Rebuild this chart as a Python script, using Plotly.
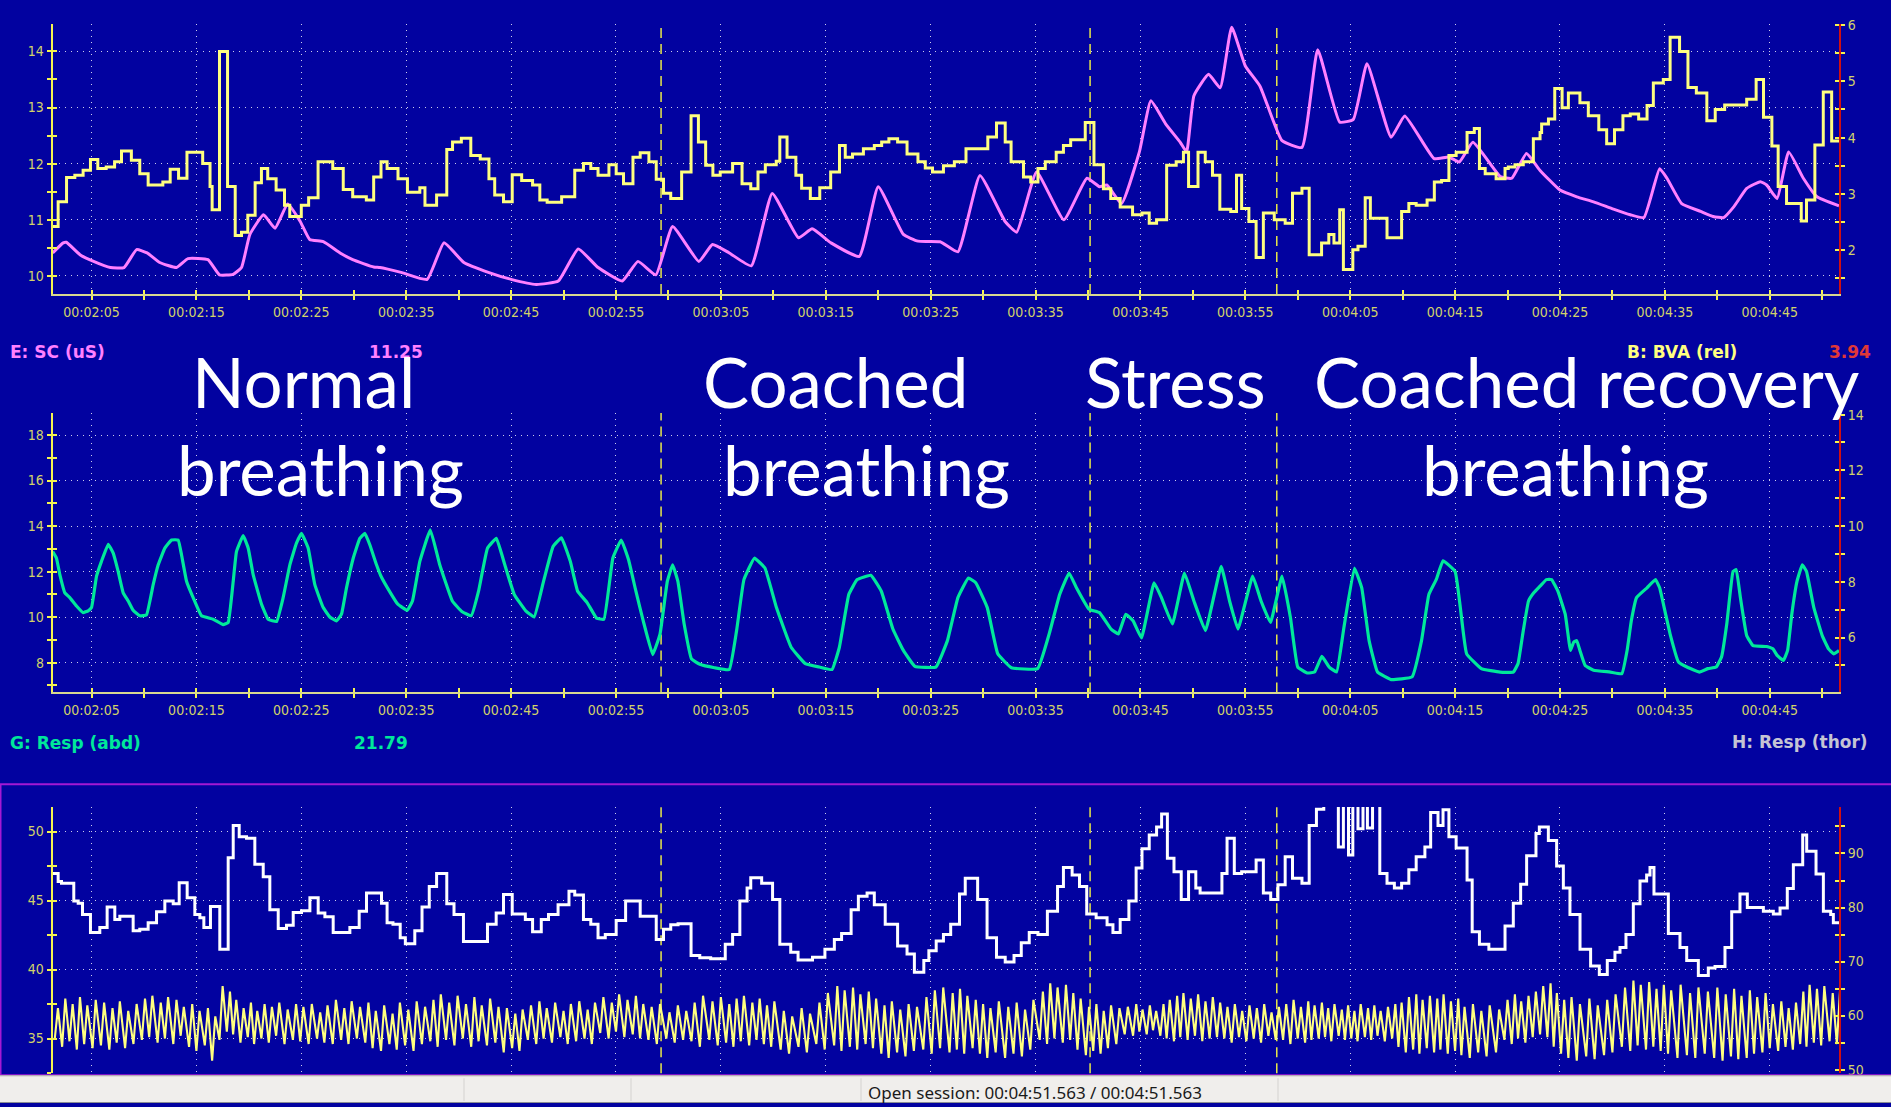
import plotly.graph_objects as go

# ---------------------------------------------------------------- data ----
# session time window shown, seconds
T0, T1 = 121.3, 291.6
tick_secs = list(range(125, 291, 10))
tick_text = [f"00:{s // 60:02d}:{s % 60:02d}" for s in tick_secs]
minor_secs = list(range(130, 291, 10))
phase_times = [179.3, 220.2, 238.0]
phase_names = [("Normal", "breathing"), ("Coached", "breathing"),
               ("Stress", ""), ("Coached recovery", "breathing")]

# E: SC (uS) - skin conductance
sc_t = [121.3, 122.3, 122.6, 123.9, 125.2, 126.8, 128.1, 129.3, 130.3, 131.5, 133.1, 134.2,
        136.1, 137.2, 138.5, 139.3, 140.1, 141.4, 142.5, 143.7, 144.9, 145.8, 147.1, 148.7,
        149.9, 151.9, 152.5, 154.6, 157.0, 158.6, 160.5, 162.9, 165.0, 167.4, 169.5, 171.4,
        173.3, 175.6, 177.1, 178.8, 180.4, 182.9, 184.2, 185.8, 187.9, 189.9, 192.4, 193.7,
        195.5, 198.2, 200.0, 202.4, 203.8, 205.9, 207.6, 209.7, 212.1, 213.2, 215.1, 217.7,
        219.9, 221.1, 221.8, 223.2, 224.9, 226.0, 227.4, 228.8, 229.4, 230.1, 231.5, 232.6,
        233.7, 235.0, 236.4, 238.5, 240.4, 241.9, 244.0, 245.3, 246.6, 248.9, 250.2, 253.0,
        254.4, 255.4, 256.7, 259.3, 260.4, 261.8, 263.1, 265.0, 266.6, 268.2, 270.1, 271.7,
        273.0, 274.5, 275.2, 276.6, 278.4, 279.6, 280.6, 281.6, 282.8, 284.1, 284.7, 285.7,
        286.8, 288.2, 289.5, 291.6]
sc_v = [10.41, 10.59, 10.60, 10.38, 10.26, 10.15, 10.15, 10.47, 10.41, 10.24, 10.15, 10.31,
        10.29, 10.02, 10.03, 10.15, 10.74, 11.09, 10.85, 11.28, 10.97, 10.65, 10.61, 10.41,
        10.29, 10.16, 10.15, 10.06, 9.94, 10.59, 10.24, 10.06, 9.94, 9.85, 9.91, 10.48,
        10.15, 9.91, 10.26, 10.02, 10.88, 10.26, 10.56, 10.41, 10.18, 11.47, 10.68, 10.84,
        10.59, 10.35, 11.59, 10.74, 10.62, 10.61, 10.43, 11.79, 10.97, 10.78, 11.85, 11.00,
        11.74, 11.59, 11.62, 11.29, 12.21, 13.12, 12.71, 12.38, 12.21, 13.21, 13.59, 13.35,
        14.43, 13.74, 13.38, 12.41, 12.29, 14.03, 12.74, 12.79, 13.78, 12.47, 12.85, 12.09,
        12.12, 12.03, 12.38, 11.77, 11.74, 12.18, 11.88, 11.53, 11.41, 11.32, 11.19, 11.09,
        11.04, 11.91, 11.74, 11.29, 11.15, 11.06, 11.04, 11.24, 11.56, 11.68, 11.62, 11.38,
        12.21, 11.74, 11.41, 11.25]

# B: BVA (rel) - blood volume amplitude, step values (start time, value)
bva_t = [121.3, 121.82, 122.62, 123.41, 124.2, 124.9, 125.6, 126.4, 127.2, 127.86, 128.8,
         129.6, 130.4, 131.8, 132.5, 133.3, 134.1, 135.6, 136.3, 136.5, 137.2, 137.97, 138.7,
         139.3, 139.9, 140.6, 141.2, 141.8, 142.6, 143.4, 143.9, 145.0, 145.7, 146.6, 148.0,
         149.0, 149.9, 151.2, 151.9, 152.6, 153.18, 154.22, 155.12, 156.3, 156.79, 157.9,
         158.87, 159.42, 160.26, 161.16, 162.06, 162.89, 163.44, 164.28, 165.11, 166.01,
         167.05, 167.74, 168.44, 169.82, 171.07, 171.9, 172.6, 173.29, 174.33, 175.02, 175.72,
         176.62, 177.31, 178.14, 178.84, 179.53, 180.22, 181.26, 182.16, 182.86, 183.55,
         184.24, 184.94, 186.12, 187.02, 187.85, 188.54, 189.24, 190.28, 190.62, 191.31,
         192.15, 192.7, 193.53, 194.43, 195.47, 196.31, 196.86, 197.55, 198.59, 199.63,
         200.33, 201.02, 201.85, 202.75, 203.79, 204.49, 205.18, 206.22, 207.26, 208.37,
         210.45, 211.28, 212.11, 212.67, 213.85, 214.54, 215.23, 215.93, 216.97, 217.66,
         218.35, 219.74, 220.57, 221.47, 222.17, 223.07, 224.25, 225.15, 225.84, 226.54,
         227.5, 228.41, 229.1, 229.59, 230.49, 231.18, 231.87, 232.57, 233.61, 234.16, 234.65,
         235.34, 236.03, 236.72, 237.76, 238.8, 239.5, 240.4, 241.09, 242.27, 242.96, 243.45,
         244.0, 244.35, 245.25, 245.74, 246.43, 246.92, 248.51, 249.9, 250.59, 251.29, 252.33,
         253.02, 253.71, 254.41, 255.1, 256.14, 256.83, 257.32, 257.87, 258.91, 259.76,
         260.07, 260.71, 261.5, 262.46, 263.1, 263.25, 263.9, 264.5, 265.2, 265.8, 266.9,
         267.7, 268.7, 269.45, 270.2, 271.0, 271.7, 272.5, 273.3, 273.9, 274.85, 275.5, 276.4,
         277.2, 278.0, 279.0, 279.8, 280.7, 282.8, 283.7, 284.4, 285.2, 285.8, 286.6, 288.0,
         288.5, 289.3, 290.1, 290.9]
bva_v = [2.42, 2.86, 3.29, 3.33, 3.42, 3.61, 3.45, 3.48, 3.57, 3.76, 3.60,
         3.36, 3.16, 3.21, 3.44, 3.28, 3.74, 3.54, 3.13, 2.72, 5.53, 3.13, 2.26,
         2.32, 2.62, 3.20, 3.45, 3.27, 3.07, 2.80, 2.60, 2.80, 2.93, 3.57, 3.45,
         3.08, 2.95, 2.89, 3.30, 3.57, 3.45, 3.27, 3.03, 3.11, 2.80, 2.98,
         3.79, 3.92, 3.99, 3.68, 3.62, 3.27, 2.98, 2.86, 3.34, 3.24,
         3.16, 2.89, 2.85, 2.95, 3.42, 3.54, 3.45, 3.33, 3.52, 3.36, 3.18,
         3.65, 3.73, 3.57, 3.26, 3.01, 2.92, 3.39, 4.39, 3.92, 3.51,
         3.33, 3.39, 3.54, 3.18, 3.09, 3.39, 3.52, 3.58, 4.01, 3.65,
         3.33, 3.10, 2.92, 3.11, 3.39, 3.86, 3.65, 3.71, 3.80, 3.86,
         3.92, 3.98, 3.92, 3.71, 3.57, 3.46, 3.39, 3.50, 3.57, 3.80,
         4.01, 4.26, 3.92, 3.57, 3.30, 3.21, 3.45, 3.57, 3.74, 3.86,
         3.96, 4.27, 3.52, 3.09, 2.92, 2.77, 2.63, 2.66, 2.48, 2.54,
         3.51, 3.57, 3.74, 3.13, 3.74, 3.57, 3.33, 2.73, 2.69, 3.33, 2.74,
         2.51, 1.87, 2.66, 2.54, 2.48, 3.01, 3.10, 1.92, 2.13, 2.28, 2.13,
         2.72, 1.66, 2.01, 2.07, 2.93, 2.57, 2.22, 2.69, 2.83, 2.80, 2.89,
         3.21, 3.24, 3.68, 3.74, 4.09, 4.16, 3.45, 3.36, 3.27, 3.45,
         3.48, 3.52, 3.57, 3.98, 4.09, 4.24, 4.33, 4.87, 4.53, 4.79, 4.62,
         4.39, 4.14, 3.89, 4.14, 4.39, 4.42, 4.33, 4.57, 4.97, 5.03, 5.78, 5.53,
         4.89, 4.79, 4.30, 4.50, 4.58, 4.68, 5.03, 4.36, 3.85, 3.13, 2.83, 2.52,
         2.89, 3.87, 4.81, 3.94]

# G: Resp (abd) - abdominal respiration
resp_t = [121.3, 121.66, 121.98, 122.46, 122.93, 123.57, 124.2, 124.68, 125.0, 125.48, 125.95,
          126.59, 127.07, 127.54, 128.02, 128.5, 128.97, 129.61, 130.24, 130.88, 131.36,
          131.99, 132.63, 133.26, 133.58, 134.06, 134.69, 135.49, 136.6, 137.55, 138.03,
          138.51, 138.82, 139.46, 139.94, 140.41, 141.21, 141.84, 142.64, 143.27, 143.91,
          144.54, 145.02, 145.66, 146.29, 147.09, 147.72, 148.36, 148.83, 149.31, 149.95,
          150.58, 151.06, 151.54, 152.17, 152.6, 153.5, 154.2, 155.1, 155.6, 156.3, 157.3,
          158.2, 159.4, 160.3, 161.2, 161.9, 162.75, 163.6, 164.4, 165.3, 166.4, 167.2, 168.1,
          169.0, 169.8, 170.65, 171.35, 172.25, 173.15, 173.85, 174.7, 175.5, 176.2, 176.9,
          177.6, 178.5, 179.2, 179.9, 180.4, 180.9, 181.5, 182.2, 183.0, 184.4, 185.8, 186.5,
          187.2, 188.2, 189.2, 190.3, 191.7, 193.05, 194.4, 195.6, 196.3, 197.2, 198.0, 199.3,
          200.3, 201.4, 202.4, 203.5, 205.5, 206.6, 207.6, 208.6, 209.3, 210.4, 211.4, 212.7,
          215.2, 216.3, 217.3, 218.2, 218.9, 220.1, 221.1, 222.2, 222.9, 223.6, 224.3, 225.1,
          226.3, 227.0, 228.05, 229.2, 230.1, 231.2, 232.7, 233.5, 234.3, 235.7, 236.5, 237.4,
          238.5, 239.3, 240.0, 240.9, 241.6, 242.3, 243.0, 243.7, 244.4, 245.4, 246.1, 246.8,
          247.6, 248.9, 250.9, 251.8, 252.5, 253.2, 253.85, 255.0, 255.5, 256.1, 257.5, 259.3,
          260.55, 261.0, 261.5, 262.0, 262.5, 263.1, 263.7, 264.2, 264.8, 265.5, 266.0, 266.3,
          266.6, 266.9, 267.4, 268.2, 269.8, 270.9, 271.4, 271.8, 272.3, 273.3, 274.1, 274.5,
          275.0, 275.5, 276.3, 277.1, 278.3, 279.1, 279.9, 280.4, 280.9, 281.5, 281.8, 282.2,
          282.8, 283.4, 284.7, 285.3, 285.7, 286.3, 286.7, 287.1, 287.6, 288.1, 288.5, 289.2,
          290.0, 290.6, 291.1, 291.6]
resp_v = [12.88, 12.59, 11.87, 11.07, 10.86, 10.49, 10.20, 10.28, 10.42, 11.80, 12.45,
          13.20, 12.81, 12.01, 11.07, 10.71, 10.30, 10.06, 10.10, 11.43, 12.30,
          13.03, 13.39, 13.39, 12.74, 11.58, 10.86, 10.06, 9.91, 9.67, 9.77,
          11.58, 12.88, 13.58, 13.03, 11.87, 10.57, 9.91, 9.81, 10.86, 12.30,
          13.25, 13.68, 13.03, 11.43, 10.42, 10.01, 9.84, 10.13, 11.29, 12.59,
          13.46, 13.68, 13.17, 12.30, 11.80, 11.07, 10.57, 10.30, 10.71, 12.45, 13.83,
          12.30, 10.71, 10.25, 10.06, 11.14, 13.03, 13.46, 12.30, 11.00, 10.28, 10.01, 11.58,
          13.10, 13.49, 12.45, 11.14, 10.64, 9.96, 9.91, 12.59, 13.39, 12.52, 11.14,
          9.84, 8.36, 9.26, 11.58, 12.30, 11.58, 9.70, 8.17, 7.93, 7.78, 7.70, 9.41,
          11.65, 12.59, 12.16, 10.42, 8.68, 7.96, 7.81, 7.70, 8.68, 11.00, 11.65, 11.84,
          11.14, 9.48, 8.54, 7.84, 7.81, 8.97, 10.86, 11.72, 11.51, 10.42, 8.39, 7.78,
          7.74, 9.26, 11.00, 11.94, 11.29, 10.35, 10.20, 9.48, 9.26, 10.13, 9.84, 9.09,
          11.51, 10.86, 9.70, 11.94, 10.71, 9.41, 12.23, 10.71, 9.48, 11.80, 10.71, 9.77,
          11.80, 9.99, 7.81, 7.55, 7.59, 8.28, 7.81, 7.59, 9.55, 12.16, 11.29, 8.97,
          7.59, 7.26, 7.38, 8.97, 11.00, 11.65, 12.48, 12.01, 10.42, 8.39, 7.74, 7.59,
          7.59, 7.96, 9.41, 10.71, 11.07, 11.36, 11.65, 11.65, 11.14, 10.13, 8.54, 8.90,
          8.97, 8.54, 7.88, 7.67, 7.59, 7.52, 8.54, 9.84, 10.86, 11.29, 11.65, 11.29,
          10.28, 9.26, 8.03, 7.81, 7.59, 7.74, 7.81, 8.25, 9.70, 12.01, 12.09, 10.86,
          9.19, 8.75, 8.71, 8.61, 8.32, 8.10, 8.54, 10.13, 11.58, 12.30, 12.01, 10.42,
          9.19, 8.61, 8.39, 8.54]

# heart rate (bpm), step values (start time, value)
hr_t = [121.3, 121.82, 122.14, 123.31, 123.73, 124.14, 124.9, 125.79, 126.49, 127.22, 127.7,
        128.97, 129.6, 130.4, 131.2, 131.99, 132.79, 133.36, 134.12, 134.85, 135.33, 135.71,
        136.34, 137.23, 138.03, 138.51, 139.08, 139.78, 140.57, 141.37, 142.0, 142.8, 143.59,
        144.23, 145.02, 145.82, 146.61, 147.25, 148.04, 149.63, 150.52, 151.22, 152.65,
        153.18, 153.74, 154.43, 154.92, 155.82, 156.51, 157.2, 157.9, 158.87, 159.56, 160.46,
        162.75, 163.58, 164.28, 165.11, 166.36, 167.05, 167.88, 168.57, 169.48, 170.52,
        171.07, 171.9, 172.6, 173.29, 173.98, 175.02, 175.92, 177.31, 178.84, 179.53, 180.22,
        180.92, 182.16, 182.99, 184.03, 185.42, 186.12, 186.81, 187.5, 187.85, 188.89,
        189.93, 190.62, 191.66, 192.36, 193.74, 194.92, 195.82, 196.51, 197.42, 198.11,
        198.94, 199.63, 200.67, 201.85, 202.75, 203.45, 204.35, 204.83, 205.53, 206.22,
        206.91, 207.75, 208.3, 209.48, 210.38, 211.28, 212.11, 212.95, 213.64, 214.4, 215.23,
        216.13, 217.1, 217.66, 218.49, 219.19, 219.88, 220.78, 221.82, 222.38, 223.07, 223.9,
        224.59, 225.15, 225.84, 226.54, 227.02, 227.57, 228.2, 228.89, 229.59, 230.28,
        230.69, 232.77, 233.26, 233.95, 234.65, 236.03, 236.72, 237.42, 238.11, 238.8, 239.5,
        240.4, 241.09, 241.78, 242.48, 243.87, 244.35, 244.84, 245.25, 245.74, 246.22,
        246.64, 247.13, 247.82, 248.51, 249.21, 249.9, 250.59, 251.29, 252.12, 252.67,
        253.37, 253.85, 254.41, 255.1, 256.14, 256.63, 257.32, 258.22, 259.76, 260.55,
        261.25, 261.82, 262.71, 263.03, 263.89, 264.68, 265.32, 265.95, 266.91, 267.92,
        268.75, 269.51, 270.24, 270.72, 271.29, 271.99, 272.63, 273.26, 273.58, 273.96,
        275.33, 276.44, 277.08, 278.19, 279.14, 279.78, 280.73, 281.37, 282.16, 282.86,
        284.39, 285.34, 285.98, 286.67, 287.25, 288.14, 288.52, 289.41, 290.11, 290.81,
        291.06]
hr_v = [86.3, 84.8, 84.5, 81.2, 80.8, 78.7, 75.4, 76.3, 80.1, 77.8, 78.4,
        75.7, 76.0, 77.2, 79.2, 81.2, 80.7, 84.6, 81.8, 78.7, 78.1, 76.3,
        80.2, 72.3, 89.2, 95.2, 93.1, 92.8, 88.0, 85.7, 79.6, 76.1, 76.7,
        79.1, 79.4, 81.8, 79.0, 78.3, 75.4, 76.3, 79.3, 82.7, 80.8,
        77.2, 76.9, 74.4, 73.3, 75.7, 80.1, 83.9, 86.3, 80.7, 78.7, 73.7,
        76.9, 79.0, 82.4, 78.8, 77.8, 75.5, 77.8, 78.7, 80.5, 83.0,
        82.3, 77.8, 76.9, 74.4, 75.0, 77.6, 81.2, 78.4, 74.1, 76.0, 76.8,
        77.0, 71.1, 70.7, 70.5, 73.2, 75.0, 81.2, 83.6, 85.5, 84.5,
        81.5, 73.2, 71.7, 70.3, 70.8, 72.3, 74.1, 75.2, 79.6, 82.1,
        82.7, 80.5, 76.9, 72.9, 71.4, 68.0, 70.2, 72.0, 73.8, 75.0,
        76.9, 82.5, 85.4, 81.5, 74.4, 70.8, 69.9, 71.1, 73.5, 75.4, 75.0,
        79.3, 83.9, 87.4, 86.0, 83.9, 78.8, 78.1, 76.8, 75.4, 77.8, 81.2,
        87.3, 90.9, 93.4, 94.9, 97.3, 89.1, 86.6, 81.5, 86.6, 83.6,
        82.7, 86.3, 92.8, 86.3, 86.6, 88.8, 82.7, 81.5, 84.2, 89.4, 85.4,
        84.5, 95.2, 98.2, 100.5, 91.2, 100.5, 89.7, 100.5, 94.6, 100.5,
        94.7, 99.5, 86.3, 84.5, 83.6, 84.5, 87.0, 89.4, 91.2, 97.6,
        95.2, 98.1, 93.1, 91.0, 85.1, 75.5, 73.2, 72.3, 76.6, 80.8,
        84.3, 89.6, 93.7, 94.9, 92.4, 87.7, 83.6, 78.7, 72.3, 69.2,
        67.6, 70.2, 71.7, 72.6, 75.0, 80.7, 84.9, 86.0, 87.4, 82.5,
        75.2, 72.6, 70.2, 67.4, 68.8, 69.1, 72.6, 79.2, 82.5, 80.0,
        79.3, 78.8, 79.9, 83.5, 87.9, 93.4, 90.4, 86.2, 79.3, 78.7,
        77.2]

# blood volume pulse: one entry per beat (onset time, peak, trough)
bvp_beat_t = [121.5, 122.2, 122.9, 123.6, 124.3, 125.1,
              125.9, 126.7, 127.4, 128.2, 129.0, 129.8,
              130.5, 131.3, 132.0, 132.8, 133.5,
              134.3, 135.0, 135.8, 136.5,
              137.2, 137.9,
              138.5, 139.2, 139.9, 140.5, 141.2, 141.9, 142.6, 143.4, 144.2,
              144.9, 145.7, 146.5, 147.2, 148.0, 148.8, 149.5, 150.3, 151.1,
              151.8, 152.6, 153.4, 154.1, 154.9, 155.7, 156.5,
              157.3, 158.0, 158.8, 159.6, 160.4, 161.2, 161.9, 162.7, 163.5,
              164.3, 165.1, 165.8,
              166.6, 167.4, 168.1, 168.9, 169.7, 170.4, 171.2, 172.0, 172.7,
              173.5, 174.3, 175.0, 175.8, 176.6, 177.3,
              178.1, 178.9, 179.8, 180.6, 181.4,
              182.2, 183.0, 183.9, 184.7, 185.5, 186.2, 186.9, 187.7, 188.4, 189.1, 189.8,
              190.7, 191.5, 192.4, 193.2,
              194.1, 194.9, 195.8, 196.5, 197.3, 198.0, 198.8, 199.5,
              200.3, 201.0, 201.8, 202.6, 203.4,
              204.3, 205.1, 205.9, 206.8, 207.5, 208.2, 209.0,
              209.7, 210.4, 211.2, 212.1, 212.9, 213.7, 214.5,
              215.4, 216.1, 216.8, 217.6, 218.3,
              219.0, 219.8, 220.5, 221.2, 221.9, 222.7,
              223.5, 224.3, 224.9, 225.6, 226.2, 226.9,
              227.5, 228.2, 228.8, 229.5, 230.2, 230.9, 231.6, 232.3,
              233.0, 233.7, 234.4, 235.1, 235.8, 236.5, 237.2, 237.9,
              238.6, 239.3, 240.0, 240.7, 241.3, 242.0,
              242.6, 243.2, 243.9, 244.5, 245.1, 245.7, 246.4, 247.0, 247.6, 248.3, 249.0,
              249.6, 250.3, 251.0, 251.6, 252.3, 253.0, 253.6, 254.3, 255.0,
              255.6, 256.4, 257.2, 258.0, 258.9,
              259.7, 260.4, 261.0, 261.7, 262.4,
              263.1, 263.8,
              264.4, 265.1, 265.8, 266.6, 267.5, 268.3, 269.2, 270.0,
              270.9, 271.7, 272.4, 273.2, 273.9, 274.6,
              275.3, 276.2, 277.1, 277.9, 278.8,
              279.7, 280.5, 281.3, 282.0, 282.8, 283.5, 284.3,
              285.0, 285.8, 286.5, 287.2,
              287.9, 288.5, 289.2, 289.9, 290.7, 291.4]
bvp_peak = [37.2, 37.9, 37.5, 38.0, 37.4, 37.8,
            37.6, 37.2, 37.7, 37.0, 37.5, 37.9,
            38.1, 37.6, 38.0, 37.8, 37.3,
            37.5, 37.0, 37.2, 36.6,
            38.8, 38.4,
            37.8, 37.2, 37.6, 37.0, 37.5, 37.3, 37.6, 37.1, 37.5,
            37.3, 37.5, 36.9, 37.4, 37.8, 37.2, 37.7, 37.3, 37.6,
            37.0, 37.4, 36.8, 37.6, 37.1, 37.7, 37.3,
            37.8, 38.2, 37.6, 38.1, 37.5, 38.0, 37.4, 37.9, 37.3,
            37.2, 36.8, 37.1,
            37.4, 37.7, 37.2, 37.6, 37.0, 37.5, 37.7, 37.1, 37.6,
            38.0, 37.6, 38.2, 37.8, 38.1, 37.5,
            37.3, 37.5, 36.9, 37.4, 37.0,
            37.6, 38.1, 37.7, 38.0, 37.5, 37.9, 38.1, 37.6, 37.9, 37.4, 37.7,
            37.0, 36.6, 37.2, 36.8,
            37.6, 38.3, 38.8, 38.5, 38.7, 38.2, 38.4, 37.9,
            37.4, 37.7, 37.1, 37.5, 37.3,
            38.0, 38.5, 38.7, 38.3, 38.6, 38.1, 37.8,
            37.5, 37.2, 37.7, 37.3, 37.6, 37.1, 37.8,
            38.4, 39.0, 38.7, 38.9, 38.3,
            37.9, 37.3, 37.5, 37.0, 37.4, 37.2,
            37.3, 37.5, 37.1, 37.4, 37.0, 37.5,
            37.8, 38.1, 38.3, 37.9, 38.2, 37.7, 38.0, 37.6,
            37.3, 37.5, 37.0, 37.4, 37.2, 37.5, 36.9, 37.3,
            37.5, 37.8, 37.3, 37.7, 37.4, 37.6,
            37.2, 37.5, 37.1, 37.4, 37.0, 37.5, 37.2, 37.4, 37.0, 37.3, 37.5,
            37.6, 38.0, 38.2, 37.8, 38.1, 37.9, 38.2, 37.7, 37.9,
            37.3, 37.5, 37.0, 37.4, 37.1,
            37.8, 38.2, 37.7, 38.1, 38.4,
            38.8, 39.0,
            38.3, 37.8, 38.0, 37.5, 37.9, 37.4, 37.8, 38.2,
            38.7, 39.2, 38.9, 39.1, 38.6, 38.9,
            38.5, 38.9, 38.3, 38.7, 38.4,
            38.7, 38.2, 38.6, 38.1, 38.5, 38.0, 38.3,
            37.5, 37.7, 37.2, 37.6,
            38.4, 38.9, 38.6, 38.8, 38.3, 38.5]
bvp_trough = [35.0, 34.4, 34.8, 34.2, 34.6, 34.3,
              34.5, 34.2, 34.7, 34.3, 34.6, 34.9,
              35.1, 34.7, 35.0, 34.6, 35.2,
              34.4, 34.1, 34.5, 33.4,
              34.9, 35.5,
              35.3, 34.7, 35.1, 34.6, 35.0, 34.7, 35.2, 34.6, 34.9,
              34.8, 34.6, 35.0, 34.7, 34.6, 34.9, 34.6, 35.0, 34.7,
              34.3, 34.1, 34.6, 34.2, 34.5, 34.1, 34.6,
              34.8, 34.4, 34.9, 34.5, 35.0, 34.4, 34.8, 34.5, 34.7,
              34.0, 34.3, 34.1,
              34.9, 34.6, 35.0, 34.7, 35.1, 34.6, 34.8, 35.0, 34.6,
              35.4, 35.0, 35.5, 35.1, 35.3, 35.0,
              34.9, 34.6, 35.0, 34.7, 34.9,
              34.8, 34.4, 34.9, 34.5, 34.7, 34.4, 34.8, 34.5, 34.9, 34.6, 34.4,
              34.2, 33.9, 34.4, 34.0,
              34.6, 34.2, 34.5, 34.1, 34.4, 34.2, 34.6, 34.3,
              33.9, 33.6, 34.0, 33.7, 34.1,
              34.2, 33.9, 34.3, 34.0, 34.2, 33.9, 34.3,
              33.9, 33.6, 34.0, 33.6, 33.9, 33.7, 34.2,
              34.9, 34.6, 35.0, 34.7, 34.9,
              34.2, 33.8, 34.1, 33.9, 34.3, 34.6,
              35.3, 35.2, 35.5, 35.3, 35.6, 35.2,
              35.0, 34.8, 35.1, 34.9, 35.2, 34.8, 35.0, 35.1,
              35.0, 34.7, 35.1, 34.8, 35.0, 34.7, 35.2, 34.9,
              34.9, 34.6, 35.0, 34.7, 34.9, 35.0,
              35.1, 34.8, 35.2, 34.9, 35.0, 34.8, 35.1, 34.9, 35.2, 34.8, 35.0,
              34.4, 34.0, 34.2, 33.9, 34.3, 34.0, 34.2, 33.9, 34.1,
              33.8, 33.6, 34.0, 33.7, 34.0,
              34.9, 34.6, 35.0, 34.7, 35.1,
              35.3, 35.1,
              34.4, 33.9, 33.6, 33.4, 33.7, 33.5, 33.8, 34.0,
              34.4, 34.1, 34.5, 34.2, 34.4, 34.1,
              33.9, 33.6, 33.8, 33.6, 33.9,
              33.6, 33.4, 33.7, 33.5, 33.6, 33.9, 34.0,
              34.3, 34.1, 34.4, 34.2,
              34.6, 34.4, 34.7, 34.5, 34.8, 34.6]

# channel read-outs
readouts = [
    ("E: SC (uS)", "#ff80ff", 8, 348), ("11.25", "#ff80ff", 367, 348),
    ("B: BVA (rel)", "#ffff80", 1625, 348), ("3.94", "#e03838", 1827, 348),
    ("G: Resp (abd)", "#00e89a", 8, 743), ("21.79", "#00e89a", 352, 743),
    ("H: Resp (thor)", "#c4c4d4", 1730, 742),
]

# --------------------------------------------------------------- style ----
W, H = 1891, 1107
BG = "#0202a0"
GRID = "rgba(215,215,240,0.95)"
TICKCOL = "#d2d26a"
AXYEL = "#f4f450"
AXRED = "#d01010"
TICKFONT = dict(family="DejaVu Sans Condensed, DejaVu Sans, sans-serif", size=14, color=TICKCOL)
LABELFONT = "DejaVu Sans, Arial, sans-serif"
BIGFONT = "Lato, Open Sans, sans-serif"


def px(x):
    return x / W


def py(y):
    return 1 - y / H


XDOM = [px(52.7), px(1839)]
TOP_DOM = [py(290), py(17)]
MID_DOM = [py(692.3), py(410)]
BOT_DOM = [py(1077), py(808)]

fig = go.Figure()

# top panel: BVA (right) and SC (left)
fig.add_trace(go.Scatter(x=bva_t + [T1], y=bva_v + [bva_v[-1]], mode="lines",
                         line=dict(color="#ffff80", width=3, shape="hv"),
                         xaxis="x", yaxis="y2", showlegend=False))
fig.add_trace(go.Scatter(x=sc_t, y=sc_v, mode="lines",
                         line=dict(color="#ff80ff", width=3, shape="spline", smoothing=0.4),
                         xaxis="x", yaxis="y", showlegend=False))

# middle panel: abdominal respiration
fig.add_trace(go.Scatter(x=resp_t, y=resp_v, mode="lines",
                         line=dict(color="#00e89a", width=3.2, shape="spline", smoothing=0.3),
                         xaxis="x2", yaxis="y3", showlegend=False))

# bottom panel: pulse waveform and heart rate
RISE = 0.3
bx, by = [], []
for t, pk, tr in zip(bvp_beat_t, bvp_peak, bvp_trough):
    bx += [t, t + RISE]
    by += [tr, pk]
fig.add_trace(go.Scatter(x=bx, y=by, mode="lines",
                         line=dict(color="#ffff80", width=2.1),
                         xaxis="x3", yaxis="y5", showlegend=False))
fig.add_trace(go.Scatter(x=hr_t + [T1], y=hr_v + [hr_v[-1]], mode="lines",
                         line=dict(color="#ffffff", width=3, shape="hv"),
                         xaxis="x3", yaxis="y6", showlegend=False))

# empty traces so that every (twin) axis pair is drawn
for xa, ya in (("x2", "y4"), ("x", "y7"), ("x", "y8"), ("x2", "y9"), ("x2", "y10"),
               ("x3", "y11"), ("x3", "y12"), ("x4", "y"), ("x5", "y3")):
    fig.add_trace(go.Scatter(x=[], y=[], mode="lines", xaxis=xa, yaxis=ya,
                             showlegend=False, hoverinfo="skip"))


def xaxis_cfg(anchor, show_axis=True):
    cfg = dict(domain=XDOM, anchor=anchor, range=[T0, T1],
               tickmode="array", tickvals=tick_secs, ticktext=tick_text,
               showgrid=True, gridcolor=GRID, griddash="1px,5px", gridwidth=1,
               zeroline=False, tickfont=TICKFONT)
    if show_axis:
        cfg.update(showline=True, linecolor="#d8d890", linewidth=2,
                   ticks="outside", ticklen=4, tickcolor=AXYEL, tickwidth=2,
                   minor=dict(tickmode="array", tickvals=minor_secs, ticks="outside",
                              ticklen=4, tickcolor=AXYEL, tickwidth=2, showgrid=False))
    else:
        cfg.update(showline=False, ticks="", showticklabels=False)
    return cfg


def xaxis_inner(anchor, overlay):
    # second set of tick marks on the inner side, so the ticks cross the axis line
    return dict(domain=XDOM, anchor=anchor, overlaying=overlay, range=[T0, T1],
                tickmode="array", tickvals=tick_secs, showticklabels=False,
                ticks="inside", ticklen=4, tickcolor=AXYEL, tickwidth=2,
                minor=dict(tickmode="array", tickvals=minor_secs, ticks="inside",
                           ticklen=4, tickcolor=AXYEL, tickwidth=2, showgrid=False),
                showline=False, showgrid=False, zeroline=False)


def yaxis_cfg(dom, anchor, rng, vals, minor_vals, side="left", overlay=None, grid=True):
    cfg = dict(domain=dom, anchor=anchor, range=rng, side=side,
               tickmode="array", tickvals=vals,
               showline=True, linewidth=2,
               linecolor=AXYEL if side == "left" else AXRED,
               ticks="outside", ticklen=4, tickcolor=AXYEL, tickwidth=2,
               minor=dict(tickmode="array", tickvals=minor_vals, ticks="outside",
                          ticklen=4, tickcolor=AXYEL, tickwidth=2, showgrid=False),
               showgrid=grid, gridcolor=GRID, griddash="1px,5px", gridwidth=1,
               zeroline=False, tickfont=TICKFONT)
    if overlay:
        cfg["overlaying"] = overlay
    return cfg


def yaxis_inner(dom, anchor, rng, vals, minor_vals, side, overlay):
    return dict(domain=dom, anchor=anchor, range=rng, side=side, overlaying=overlay,
                tickmode="array", tickvals=vals, showticklabels=False,
                ticks="inside", ticklen=4, tickcolor=AXYEL, tickwidth=2,
                minor=dict(tickmode="array", tickvals=minor_vals, ticks="inside",
                           ticklen=4, tickcolor=AXYEL, tickwidth=2, showgrid=False),
                showline=False, showgrid=False, zeroline=False)


# per-axis scale: (domain, anchor, range, major ticks, minor ticks, side)
y_specs = {
    "top_l": (TOP_DOM, "x", [9.677, 14.49], [10, 11, 12, 13, 14], [10.5, 11.5, 12.5, 13.5], "left"),
    "top_r": (TOP_DOM, "x", [1.221, 6.02], [2, 3, 4, 5, 6], [1.5, 2.5, 3.5, 4.5, 5.5], "right"),
    "mid_l": (MID_DOM, "x2", [6.696, 18.97], [8, 10, 12, 14, 16, 18], [7, 9, 11, 13, 15, 17], "left"),
    "mid_r": (MID_DOM, "x2", [4.03, 14.06], [4, 6, 8, 10, 12, 14], [5, 7, 9, 11, 13], "right"),
    "bot_l": (BOT_DOM, "x3", [32.48, 51.78], [35, 40, 45, 50], [32.5, 37.5, 42.5, 47.5], "left"),
    "bot_r": (BOT_DOM, "x3", [49.32, 98.61], [50, 60, 70, 80, 90], [55, 65, 75, 85, 95], "right"),
}


def ys(key, **kw):
    d, a, r, v, m, s = y_specs[key]
    return yaxis_cfg(d, a, r, v, m, side=s, **kw)


def yi(key, overlay):
    d, a, r, v, m, s = y_specs[key]
    return yaxis_inner(d, a, r, v, m, s, overlay)


layout = dict(
    width=W, height=H, margin=dict(l=0, r=0, t=0, b=0),
    paper_bgcolor=BG, plot_bgcolor=BG, showlegend=False,
    xaxis=xaxis_cfg("y"),
    xaxis2=xaxis_cfg("y3"),
    xaxis3=xaxis_cfg("y5", show_axis=False),
    xaxis4=xaxis_inner("y", "x"),
    xaxis5=xaxis_inner("y3", "x2"),
    yaxis=ys("top_l"),
    yaxis2=ys("top_r", overlay="y", grid=False),
    yaxis3=ys("mid_l"),
    yaxis4=ys("mid_r", overlay="y3", grid=False),
    yaxis5=ys("bot_l"),
    yaxis6=ys("bot_r", overlay="y5", grid=False),
    yaxis7=yi("top_l", "y"),
    yaxis8=yi("top_r", "y"),
    yaxis9=yi("mid_l", "y3"),
    yaxis10=yi("mid_r", "y3"),
    yaxis11=yi("bot_l", "y5"),
    yaxis12=yi("bot_r", "y5"),
)
fig.update_layout(**layout)

shapes = []
# phase boundaries in every panel
for xr, yr in (("x", "y domain"), ("x2", "y3 domain"), ("x3", "y5 domain")):
    for t in phase_times:
        shapes.append(dict(type="line", xref=xr, yref=yr, x0=t, x1=t, y0=0, y1=1,
                           line=dict(color="#e8e848", width=1.5, dash="10px,6px"),
                           layer="below"))
# selected-panel frame
shapes.append(dict(type="rect", xref="paper", yref="paper", x0=px(0.5), x1=px(W + 2),
                   y0=py(1079), y1=py(785), line=dict(color="#a418d4", width=2),
                   fillcolor="rgba(0,0,0,0)"))
# status bar
shapes.append(dict(type="rect", xref="paper", yref="paper", x0=0, x1=1, y0=0, y1=py(1079),
                   fillcolor="#f0eeec", line=dict(width=0)))
shapes.append(dict(type="line", xref="paper", yref="paper", x0=0, x1=1,
                   y0=py(1079.5), y1=py(1079.5), line=dict(color="#a8a8a8", width=1)))
shapes.append(dict(type="line", xref="paper", yref="paper", x0=0, x1=1,
                   y0=py(1106.5), y1=py(1106.5), line=dict(color="#8a8e94", width=1)))
for sx in (464, 631, 861, 1278):
    shapes.append(dict(type="line", xref="paper", yref="paper", x0=px(sx), x1=px(sx),
                       y0=py(1082), y1=py(1105), line=dict(color="#d4d2d0", width=1)))
fig.update_layout(shapes=shapes)

ann = []
for text, col, x, y in readouts:
    ann.append(dict(text=f"<b>{text}</b>", x=px(x), y=py(y), xref="paper", yref="paper",
                    xanchor="left", yanchor="middle", showarrow=False,
                    font=dict(family=LABELFONT, size=17, color=col)))

# phase captions
caption_pos = [((303, 378), (320, 467)), ((835, 378), (866, 467)),
               ((1175, 378), None), ((1587, 378), (1565, 467))]
for (l1, l2), (p1, p2) in zip(phase_names, caption_pos):
    for txt, pos in ((l1, p1), (l2, p2)):
        if not txt:
            continue
        ann.append(dict(text=txt, x=px(pos[0]), y=py(pos[1]), xref="paper", yref="paper",
                        xanchor="center", yanchor="middle", showarrow=False,
                        font=dict(family=BIGFONT, size=69, color="white")))

ann.append(dict(text="Open session: 00:04:51.563 / 00:04:51.563", x=px(866), y=py(1096),
                xref="paper", yref="paper", xanchor="left", yanchor="middle",
                showarrow=False, font=dict(family="Noto Sans, sans-serif", size=17,
                                           color="#1a1a1a")))
fig.update_layout(annotations=ann)

fig.write_html("out.html")
